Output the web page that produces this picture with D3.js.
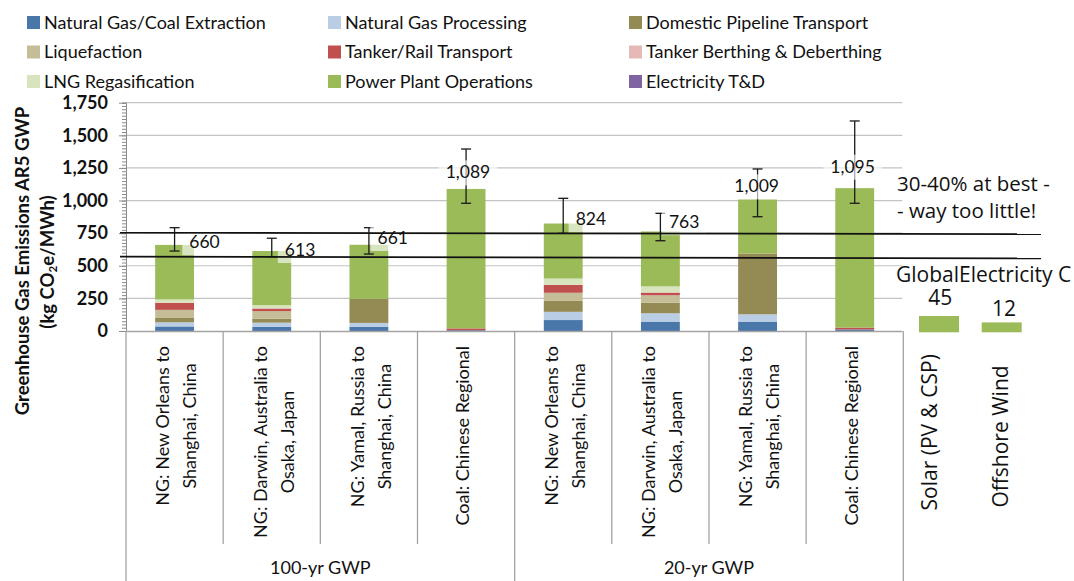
<!DOCTYPE html>
<html>
<head>
<meta charset="utf-8">
<script src="https://cdn.jsdelivr.net/npm/d3@7"></script>
<style>
  html, body { margin: 0; padding: 0; background: #fff; }
  svg { display: block; font-family: Lato, "Noto Sans", sans-serif; }
</style>
</head>
<body>
<svg id="chart" width="1074" height="581"></svg>
<script>
// ---- data ---------------------------------------------------------------
const categoryLabels = [
  ["NG: New Orleans to", "Shanghai, China"],
  ["NG: Darwin, Australia to", "Osaka, Japan"],
  ["NG: Yamal, Russia to", "Shanghai, China"],
  ["Coal: Chinese Regional"],
  ["NG: New Orleans to", "Shanghai, China"],
  ["NG: Darwin, Australia to", "Osaka, Japan"],
  ["NG: Yamal, Russia to", "Shanghai, China"],
  ["Coal: Chinese Regional"]
];
const groupLabels = ["100-yr GWP", "20-yr GWP"];
const groupSizes = [4, 4];

const stageNames = [
  "Natural Gas/Coal Extraction", "Natural Gas Processing", "Domestic Pipeline Transport",
  "Liquefaction", "Tanker/Rail Transport", "Tanker Berthing & Deberthing",
  "LNG Regasification", "Power Plant Operations", "Electricity T&D"
];
const stageColors = [
  "#4a77aa", "#b9cde5", "#948a54",
  "#c4bd97", "#c0504d", "#e6b9b8",
  "#d7e4bd", "#9bbb59", "#8064a2"
];

// kg CO2e / MWh per life-cycle stage, one value per bar
const extraction   = [35, 31, 31, 6, 84, 72, 72, 12];
const processing   = [32, 33, 31, 0, 63, 64, 56, 0];
const pipeline     = [33, 30, 184, 0, 84, 80, 466, 0];
const liquefaction = [62, 58, 0, 0, 62, 58, 0, 0];
const tankerRail   = [54, 20, 0, 14, 60, 20, 0, 14];
const berthing     = [2, 2, 0, 0, 2, 2, 0, 0];
const regas        = [24, 24, 0, 0, 47, 46, 0, 0];
const powerPlant   = [418, 415, 415, 1069, 422, 421, 415, 1069];
const transmission = [0, 0, 0, 0, 0, 0, 0, 0];
const stageSeries = [extraction, processing, pipeline, liquefaction, tankerRail,
                     berthing, regas, powerPlant, transmission];

const totals    = [660, 613, 661, 1089, 824, 763, 1009, 1095];
const errorLow  = [613, 570, 590, 979, 749, 692, 876, 979];
const errorHigh = [792, 711, 792, 1395, 1017, 902, 1242, 1610];

const yTicks = [0, 250, 500, 750, 1000, 1250, 1500, 1750];

// reference band lines (value at left end, value at right end)
const bandLines = [[753, 743], [570, 557]];

const renewables = ["Solar (PV & CSP)", "Offshore Wind"];
const renewableValues = [45, 12];

// ---- layout -------------------------------------------------------------
const W = 1074, H = 581;
const plotLeft = 126, plotRight = 903.3, plotTop = 102.7, plotBottom = 331;
const ink = "#111";
const svg = d3.select("#chart");
svg.append("rect").attr("width", W).attr("height", H).attr("fill", "#fff");

const idx = d3.range(categoryLabels.length);
const x = d3.scaleBand().domain(idx).range([plotLeft, plotRight])
  .paddingInner(0.6).paddingOuter(0.3);
const step = x.step();
const cx = i => x(i) + x.bandwidth() / 2;
const boundary = i => plotLeft + i * step;

const y = d3.scaleLinear().domain([0, 1750]).range([plotBottom, plotTop]);

// gridlines
svg.append("g").selectAll("line").data(yTicks.filter(d => d > 0)).join("line")
  .attr("x1", plotLeft).attr("x2", plotRight - 1)
  .attr("y1", d => y(d)).attr("y2", d => y(d))
  .attr("stroke", "#c3c3c3").attr("stroke-width", 1.2);

// stacked bars
const rows = idx.map(i => {
  const r = { i };
  stageNames.forEach((s, k) => r[s] = stageSeries[k][i]);
  return r;
});
const stacked = d3.stack().keys(stageNames)(rows);
svg.append("g").selectAll("g").data(stacked).join("g")
  .attr("fill", (d, k) => stageColors[k])
  .selectAll("rect").data(d => d).join("rect")
  .attr("x", d => x(d.data.i))
  .attr("width", x.bandwidth())
  .attr("y", d => y(d[1]))
  .attr("height", d => Math.max(0, y(d[0]) - y(d[1])));

// error bars
const eb = svg.append("g").attr("stroke", "#1a1a1a").attr("stroke-width", 1.3);
idx.forEach(i => {
  eb.append("line").attr("x1", cx(i)).attr("x2", cx(i))
    .attr("y1", y(errorHigh[i])).attr("y2", y(errorLow[i]));
  [errorHigh[i], errorLow[i]].forEach(v => {
    eb.append("line").attr("x1", cx(i) - 5).attr("x2", cx(i) + 5)
      .attr("y1", y(v)).attr("y2", y(v));
  });
});

// total labels with translucent white boxes
const labelNudge = [[14.7, 3.4, "start"], [13.1, 5, "start"], [8.6, -0.8, "start"],
                    [1.9, -10.6, "middle"], [12.4, 1.5, "start"], [8.5, -3.2, "start"],
                    [-0.9, -7, "middle"], [-2.1, -15.4, "middle"]];
const fmt = d3.format(",");
const lab = svg.append("g");
idx.forEach(i => {
  const [dx, dy, anchor] = labelNudge[i];
  const g = lab.append("g");
  const box = g.append("rect").attr("fill", "#fff").attr("fill-opacity", 0.62);
  const t = g.append("text")
    .attr("x", cx(i) + dx).attr("y", y(totals[i]) + dy)
    .attr("text-anchor", anchor)
    .attr("font-size", 17.5).attr("fill", ink)
    .text(fmt(totals[i]));
  const b = t.node().getBBox();
  box.attr("x", b.x - 7).attr("y", b.y - 1).attr("width", b.width + 14).attr("height", b.height + 4);
});

// y axis
const yAxisMinor = d3.axisLeft(y).tickValues(d3.range(0, 1751, 25)).tickSize(4).tickFormat("");
const ga2 = svg.append("g").attr("transform", `translate(${plotLeft},0)`).call(yAxisMinor);
ga2.selectAll("line").attr("stroke", "#8c8c8c");
ga2.select(".domain").attr("stroke", "#8c8c8c");
const yAxis = d3.axisLeft(y).tickValues(yTicks).tickSize(7).tickPadding(11).tickFormat(fmt);
const ga = svg.append("g").attr("transform", `translate(${plotLeft},0)`).call(yAxis);
ga.select(".domain").remove();
ga.selectAll("line").attr("stroke", "#8c8c8c");
ga.selectAll("text").attr("font-family", "Lato, sans-serif").attr("font-size", 18)
  .attr("font-weight", "bold").attr("fill", ink);

// y axis title
const yt = svg.append("g").attr("font-weight", "bold").attr("font-size", 18.5)
  .attr("fill", ink).attr("text-anchor", "middle");
yt.append("text").attr("transform", "translate(23,261) rotate(-90)")
  .attr("dy", "0.35em").text("Greenhouse Gas Emissions AR5 GWP");
const yt2 = yt.append("text").attr("transform", "translate(48,262) rotate(-90)").attr("dy", "0.35em");
yt2.append("tspan").text("(kg CO");
yt2.append("tspan").attr("font-size", 11.5).attr("dy", "0.25em").text("2");
yt2.append("tspan").attr("dy", "-0.2em").text("e/MWh)");

// category axis frame
const axisColor = "#a3a3a3";
const fr = svg.append("g").attr("stroke", axisColor).attr("stroke-width", 1.3);
fr.append("line").attr("x1", plotLeft).attr("x2", boundary(8) - 1)
  .attr("y1", plotBottom + 0.5).attr("y2", plotBottom + 0.5);
let start = 0;
const groupEdges = [0];
groupSizes.forEach(n => { start += n; groupEdges.push(start); });
idx.concat([8]).forEach(k => {
  const isGroupEdge = groupEdges.includes(k);
  fr.append("line").attr("x1", boundary(k)).attr("x2", boundary(k))
    .attr("y1", plotBottom).attr("y2", isGroupEdge ? H : 544);
});

// category labels (rotated, top-aligned blocks)
const cl = svg.append("g").attr("font-size", 18).attr("fill", ink).attr("text-anchor", "middle");
idx.forEach(i => {
  const lines = categoryLabels[i];
  const ts = lines.map(s => cl.append("text").text(s));
  const L = d3.max(ts, t => t.node().getComputedTextLength());
  const yc = 346 + L / 2;
  const offs = lines.length === 2 ? [-11.5, 15.5] : [-3];
  ts.forEach((t, k) => {
    t.attr("transform", `translate(${cx(i) + offs[k]},${yc}) rotate(-90)`).attr("dy", "0.35em");
  });
});

// group labels
svg.append("g").attr("font-size", 18).attr("fill", ink).attr("text-anchor", "middle")
  .selectAll("text").data(groupLabels).join("text")
  .attr("x", (d, k) => (boundary(groupEdges[k]) + boundary(groupEdges[k + 1])) / 2)
  .attr("y", 574)
  .text(d => d);

// reference band lines
svg.append("g").attr("stroke", "#111").attr("stroke-width", 1.7)
  .selectAll("line").data(bandLines).join("line")
  .attr("x1", 120).attr("x2", 1041)
  .attr("y1", d => y(d[0])).attr("y2", d => y(d[1]));

// legend
const legendCols = [27, 328, 629], legendRows = [22.5, 52, 81.5];
const lg = svg.append("g").attr("font-size", 18).attr("fill", ink);
stageNames.forEach((s, k) => {
  const lx = legendCols[k % 3], ly = legendRows[Math.floor(k / 3)];
  lg.append("rect").attr("x", lx).attr("y", ly - 6.5).attr("width", 13).attr("height", 13)
    .attr("fill", stageColors[k]);
  lg.append("text").attr("x", lx + 17).attr("y", ly).attr("dy", "0.35em").text(s);
});

// annotation
const note = svg.append("g").attr("font-family", "'Open Sans', sans-serif").attr("fill", ink);
note.append("text").attr("x", 897).attr("y", 190.5).attr("font-size", 20.5).text("30-40% at best -");
note.append("text").attr("x", 897).attr("y", 218).attr("font-size", 20.5).text("- way too little!");
note.append("text").attr("x", 896).attr("y", 282).attr("font-size", 21).text("GlobalElectricity C");

// renewable comparison inset
const insetX = d3.scaleBand().domain(renewables).range([900.2, 1040.5]).paddingInner(0.362).paddingOuter(0.3);
const insetY = d3.scaleLinear().domain([-39, 45]).range([332.3, 316]);
const valueNudge = [[1.3, -11], [2.3, -6.7]];
const nameNudge = [[-9, 432.3], [-1, 436.5]];
const ins = svg.append("g");
ins.selectAll("rect").data(renewables).join("rect")
  .attr("x", d => insetX(d)).attr("width", insetX.bandwidth())
  .attr("y", (d, k) => insetY(renewableValues[k]))
  .attr("height", (d, k) => insetY(-39) - insetY(renewableValues[k]))
  .attr("fill", "#9bbb59");
ins.selectAll("text.v").data(renewables).join("text").attr("class", "v")
  .attr("x", (d, k) => insetX(d) + insetX.bandwidth() / 2 + valueNudge[k][0])
  .attr("y", (d, k) => insetY(renewableValues[k]) + valueNudge[k][1])
  .attr("text-anchor", "middle").attr("font-family", "'Open Sans', sans-serif")
  .attr("font-size", 21).attr("fill", ink)
  .text((d, k) => renewableValues[k]);
ins.selectAll("text.n").data(renewables).join("text").attr("class", "n")
  .attr("transform", (d, k) => `translate(${insetX(d) + insetX.bandwidth() / 2 + nameNudge[k][0]},${nameNudge[k][1]}) rotate(-90)`)
  .attr("dy", "0.35em")
  .attr("text-anchor", "middle").attr("font-family", "'Open Sans', sans-serif")
  .attr("font-size", 21).attr("fill", ink)
  .text(d => d);
</script>
</body>
</html>
